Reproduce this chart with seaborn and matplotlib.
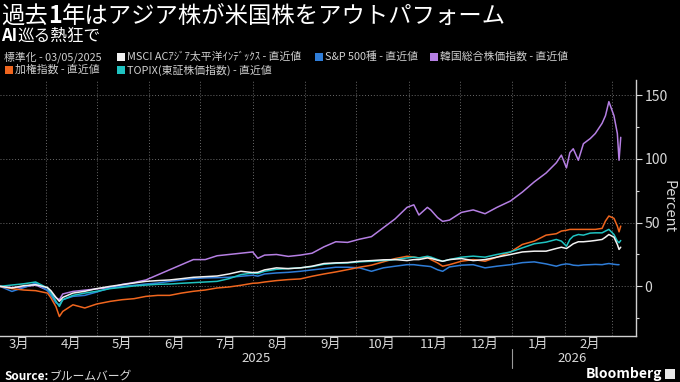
import matplotlib
matplotlib.use("Agg")
import matplotlib.pyplot as plt
import matplotlib.dates as mdates
import matplotlib.ticker as mticker
from matplotlib.patches import Rectangle
import seaborn as sns
import pandas as pd

# ---------------- data (percent change since 03/05/2025) ----------------
dates = [
    "2025-03-05", "2025-03-12", "2025-03-19", "2025-03-26", "2025-04-02", "2025-04-04",
    "2025-04-07", "2025-04-09", "2025-04-11", "2025-04-17", "2025-04-24", "2025-05-01",
    "2025-05-09", "2025-05-16", "2025-05-23", "2025-05-30", "2025-06-06", "2025-06-13",
    "2025-06-20", "2025-06-27", "2025-07-04", "2025-07-11", "2025-07-18", "2025-07-25",
    "2025-08-01", "2025-08-04", "2025-08-08", "2025-08-15", "2025-08-22", "2025-08-29",
    "2025-09-05", "2025-09-12", "2025-09-19", "2025-09-26", "2025-10-03", "2025-10-10",
    "2025-10-17", "2025-10-24", "2025-10-31", "2025-11-04", "2025-11-07", "2025-11-12",
    "2025-11-14", "2025-11-18", "2025-11-21", "2025-11-25", "2025-12-02", "2025-12-09",
    "2025-12-16", "2025-12-23", "2025-12-31", "2026-01-07", "2026-01-14", "2026-01-21",
    "2026-01-27", "2026-01-30", "2026-02-02", "2026-02-04", "2026-02-06", "2026-02-09",
    "2026-02-12", "2026-02-16", "2026-02-19", "2026-02-23", "2026-02-25", "2026-02-27",
    "2026-03-02", "2026-03-04", "2026-03-05", "2026-03-06",
]

msci_apac = [
    0, -1.3, 0.5, 1.3, -1.0, -3.4, -8.7, -11.8, -8.7, -5.3, -3.9, -1.8,
    0.0, 1.3, 2.6, 3.9, 4.5, 5.0, 6.0, 7.1, 7.6, 8.1, 9.7, 11.8,
    10.8, 11.0, 12.9, 14.5, 13.9, 14.5, 15.8, 17.9, 18.4, 18.7, 19.7, 20.2,
    20.8, 21.0, 20.2, 21.0, 21.0, 22.3, 22.0, 20.5, 19.7, 21.0, 21.8, 20.2,
    21.0, 22.9, 25.0, 27.0, 27.6, 27.6, 29.7, 30.7, 29.7, 31.5, 33.4, 35.0,
    35.0, 35.5, 36.0, 36.8, 38.6, 40.7, 38.6, 32.9, 29.0, 30.7,
]

sp500 = [
    0, -4.0, -1.0, 2.6, -3.4, -7.0, -13.0, -14.5, -10.5, -7.9, -7.1, -4.5,
    -1.3, 0.0, 0.8, 1.8, 2.6, 3.9, 5.0, 6.0, 6.6, 6.8, 7.1, 7.9,
    8.7, 8.0, 9.7, 10.5, 11.0, 11.8, 12.9, 13.9, 15.0, 15.0, 14.5, 11.8,
    14.5, 15.8, 17.0, 17.0, 16.5, 15.8, 15.5, 13.0, 11.8, 15.2, 16.6, 17.0,
    14.5, 15.8, 17.0, 18.6, 19.2, 17.6, 15.8, 17.0, 17.6, 17.3, 16.6, 16.3,
    16.8, 17.0, 17.2, 17.0, 17.5, 17.9, 17.3, 17.0, 17.0, None,
]

kospi = [
    0, -1.0, -0.5, 1.0, -3.0, -5.0, -9.0, -10.5, -6.0, -4.0, -3.0, -2.0,
    -1.0, 1.5, 3.0, 5.0, 9.0, 13.0, 17.0, 21.0, 21.0, 24.0, 25.0, 26.0,
    27.0, 22.0, 24.5, 25.0, 23.5, 24.5, 26.0, 31.0, 35.0, 34.5, 37.0, 39.0,
    46.0, 53.0, 62.0, 64.0, 56.0, 62.0, 60.0, 54.0, 51.0, 52.0, 58.0, 60.0,
    57.0, 62.0, 67.0, 74.0, 82.0, 89.0, 97.0, 103.0, 93.0, 105.0, 108.0, 99.0,
    112.0, 116.0, 120.0, 128.0, 134.0, 145.0, 134.0, 120.0, 99.0, 117.0,
]

taiex = [
    0, -1.8, -2.9, -3.4, -5.3, -9.0, -16.0, -23.7, -19.7, -14.5, -17.0, -13.9,
    -11.8, -10.5, -9.7, -7.9, -7.1, -7.1, -5.3, -3.9, -2.9, -1.3, -0.5, 0.8,
    2.4, 2.6, 3.4, 4.5, 5.3, 5.8, 7.9, 9.7, 11.3, 13.1, 15.0, 16.6,
    19.2, 21.8, 23.6, 23.0, 22.3, 22.9, 21.0, 18.4, 15.8, 17.0, 19.7, 21.0,
    19.7, 22.9, 27.0, 32.9, 35.5, 40.2, 41.3, 43.4, 44.0, 44.7, 44.7, 44.7,
    44.7, 44.7, 44.7, 45.5, 51.3, 55.2, 53.4, 47.3, 42.8, 47.3,
]

topix = [
    0, 1.0, 2.0, 3.4, -1.3, -5.0, -11.8, -15.8, -10.5, -7.1, -5.3, -3.9,
    -1.8, -0.8, 0.3, 1.0, 1.6, 1.8, 2.4, 2.9, 3.4, 3.9, 6.0, 9.2,
    10.5, 10.0, 11.8, 13.4, 13.9, 14.5, 15.5, 17.3, 18.1, 18.4, 19.2, 19.7,
    20.2, 21.0, 22.3, 22.9, 22.3, 23.6, 23.0, 21.0, 19.7, 21.0, 22.9, 23.7,
    22.9, 25.0, 27.0, 30.2, 33.4, 34.7, 36.8, 35.5, 31.5, 36.8, 39.4, 40.7,
    40.2, 41.8, 42.0, 42.0, 43.4, 44.7, 40.7, 35.5, 34.2, 36.0,
]

series_labels = [
    "MSCI ACｱｼﾞｱ太平洋ｲﾝﾃﾞｯｸｽ - 直近値",
    "S&P 500種 - 直近値",
    "韓国総合株価指数 - 直近値",
    "加権指数 - 直近値",
    "TOPIX(東証株価指数) - 直近値",
]
series_values = [msci_apac, sp500, kospi, taiex, topix]
series_colors = ["#f2f2f2", "#2f7dd8", "#b57fe3", "#f0661e", "#1fc3c1"]

year_labels = ["2025", "2026"]
title_parts = [("過去", "normal"), ("1", "bold"), ("年はアジア株が米国株をアウトパフォーム", "normal")]
subtitle_parts = [("AI", "bold"), ("巡る熱狂で", "normal")]
norm_text = "標準化 - 03/05/2025"
y_label = "Percent"

# ---------------- build long table ----------------
frames = []
for lab, vals in zip(series_labels, series_values):
    frames.append(pd.DataFrame({"date": pd.to_datetime(dates),
                                "value": pd.Series(vals, dtype="float"),
                                "series": lab}))
df = pd.concat(frames, ignore_index=True).dropna()

# ---------------- style ----------------
sns.set_theme(style="dark")
plt.rcParams["font.family"] = ["Noto Sans CJK JP", "DejaVu Sans"]
plt.rcParams["axes.unicode_minus"] = False

W, H = 680, 382
fig = plt.figure(figsize=(6.8, 3.82), dpi=100, facecolor="black")

ax_left, ax_right, ax_top, ax_bot = 0, 636, 80, 336
ax = fig.add_axes([ax_left / W, 1 - ax_bot / H, (ax_right - ax_left) / W, (ax_bot - ax_top) / H])
ax.set_facecolor("black")

order = [2, 1, 3, 4, 0]
sns.lineplot(
    data=df, x="date", y="value", hue="series",
    hue_order=[series_labels[i] for i in order],
    palette=[series_colors[i] for i in order],
    linewidth=1.1, legend=False, ax=ax, estimator=None, sort=True,
)

ax.set_xlim(pd.Timestamp("2025-03-05"), pd.Timestamp("2026-03-15"))
ax.set_ylim(-39, 162)

# y axis on the right
ax.yaxis.tick_right()
ax.yaxis.set_major_locator(mticker.MultipleLocator(50))
ax.yaxis.set_minor_locator(mticker.MultipleLocator(25))
ax.tick_params(axis="y", which="major", colors="#d9d9d9", labelsize=10, length=4, width=0.8, pad=2, direction="out")
ax.tick_params(axis="y", which="minor", colors="#d9d9d9", length=2.5, width=0.8, direction="out")
ax.set_ylabel("")

# x axis: month boundaries as ticks/grid, month names centred
ax.xaxis.set_major_locator(mdates.MonthLocator())
ax.xaxis.set_major_formatter(mticker.NullFormatter())
ax.xaxis.set_minor_locator(mdates.MonthLocator(bymonthday=16))


def _mfmt(x, pos=None):
    d = mdates.num2date(x)
    return f"{d.month}月"


ax.xaxis.set_minor_formatter(mticker.FuncFormatter(_mfmt))
ax.tick_params(axis="x", which="major", colors="#bdbdbd", length=4, width=0.8, direction="out")
ax.tick_params(axis="x", which="minor", colors="#d9d9d9", length=0, labelsize=9.5, pad=1.5)
ax.set_xlabel("")

ax.grid(True, which="major", axis="both", color="#6a6a6a", linestyle=(0, (1, 2)), linewidth=0.7)
ax.grid(False, which="minor")
for s in ["top", "left"]:
    ax.spines[s].set_visible(False)
for s in ["right", "bottom"]:
    ax.spines[s].set_visible(True)
    ax.spines[s].set_color("#d0d0d0")
    ax.spines[s].set_linewidth(1.0)


def fx(px):
    return px / W


def fy(py):
    return 1 - py / H


renderer = fig.canvas.get_renderer()


def mixed_text(x_px, y_px, parts, size, color):
    x = x_px
    for txt, weight in parts:
        t = fig.text(fx(x), fy(y_px), txt, color=color, fontsize=size, fontweight=weight,
                     ha="left", va="center")
        bb = t.get_window_extent(renderer=renderer)
        x += bb.width


# y label
fig.text(fx(668), fy(207), y_label, color="#d9d9d9", fontsize=10.5, rotation=270, ha="center", va="center")

# year labels and separator
fig.text(fx(256), fy(359), year_labels[0], color="#d9d9d9", fontsize=9.5, ha="center", va="center")
fig.text(fx(572), fy(359), year_labels[1], color="#d9d9d9", fontsize=9.5, ha="center", va="center")
fig.add_artist(plt.Line2D([fx(512), fx(512)], [fy(349), fy(368)], color="#9a9a9a", linewidth=0.8))

# titles
mixed_text(1, 16, title_parts, 16.8, "white")
mixed_text(1, 36, subtitle_parts, 12, "white")

# legend rows
leg_fs = 7.8
leg_col = "#d0d0d0"
fig.text(fx(4), fy(57), norm_text, color=leg_col, fontsize=leg_fs, ha="left", va="center")
legend_pos = [(117, 57), (315, 57), (430, 57), (5, 70), (117, 70)]
for (px, py), lab, col in zip(legend_pos, series_labels, series_colors):
    fig.add_artist(Rectangle((fx(px), fy(py + 4)), 8 / W, 8 / H, facecolor=col, edgecolor="none",
                             transform=fig.transFigure))
    fig.text(fx(px + 10), fy(py), lab, color=leg_col, fontsize=leg_fs, ha="left", va="center")

# footer
fig.text(fx(4), fy(376), "Source:", color="white", fontsize=8.5, ha="left", va="center", fontweight="bold")
fig.text(fx(49), fy(376), "ブルームバーグ", color="#d9d9d9", fontsize=8.5, ha="left", va="center")
fig.text(fx(662), fy(374), "Bloomberg", color="white", fontsize=10, ha="right", va="center", fontweight="bold")
fig.add_artist(Rectangle((fx(665), fy(379)), 10 / W, 10 / H, facecolor="#e8e8e8", edgecolor="none",
                         transform=fig.transFigure))

fig.savefig("out.png", dpi=100, facecolor="black")
